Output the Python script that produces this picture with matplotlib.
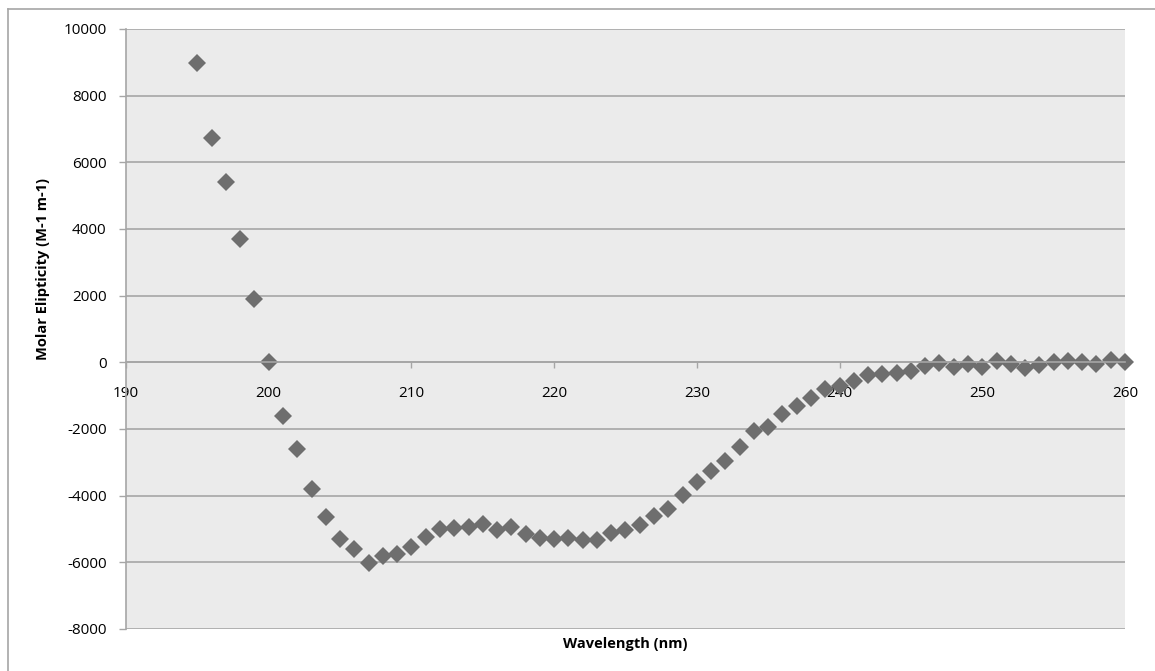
import matplotlib
matplotlib.use("Agg")
import matplotlib.pyplot as plt
from matplotlib.lines import Line2D

# CD spectrum
wavelength = list(range(195, 261))
ellipticity = [
    8970, 6720, 5400, 3700, 1890, 0,
    -1600, -2610, -3810, -4630, -5300, -5610, -6030, -5810, -5750, -5530,
    -5250, -5010, -4960, -4950, -4860, -5030, -4930, -5150, -5280, -5300,
    -5260, -5330, -5330, -5110, -5040, -4880, -4600, -4400, -3980, -3580,
    -3270, -2970, -2530, -2060, -1930, -1560, -1310, -1080, -810, -710,
    -550, -380, -350, -310, -260, -110, -30, -130, -60, -130,
    50, -50, -160, -80, 0, 50, 0, -60, 70, 0,
]
x_ticks = [190, 200, 210, 220, 230, 240, 250, 260]
y_ticks = [-8000, -6000, -4000, -2000, 0, 2000, 4000, 6000, 8000, 10000]

W, H = 1155, 671
plt.rcParams['font.family'] = ['Open Sans', 'DejaVu Sans']
plt.rcParams['axes.unicode_minus'] = False
fig = plt.figure(figsize=(W / 100, H / 100), dpi=100)

# plot area in pixels
left, right, top, bottom = 126, 1125, 29, 629
ax = fig.add_axes([left / W, (H - bottom) / H, (right - left) / W, (bottom - top) / H])
ax.set_facecolor("#EBEBEB")

grid_col = "#A6A6A6"
ax.set_xlim(190, 260)
ax.set_ylim(-8000, 10000)
ax.set_xticks(x_ticks)
ax.set_yticks(y_ticks)
ax.yaxis.grid(True, color=grid_col, linewidth=1.2)
ax.set_axisbelow(True)

for s in ["top", "right"]:
    ax.spines[s].set_visible(False)
ax.spines["left"].set_color(grid_col)
ax.spines["left"].set_linewidth(1.2)
ax.spines["bottom"].set_position(("data", 0))
ax.spines["bottom"].set_color(grid_col)
ax.spines["bottom"].set_linewidth(1.2)

ax.tick_params(axis="x", direction="out", length=4, width=1, color=grid_col,
               pad=13, labelsize=11, labelcolor="black")
ax.tick_params(axis="y", direction="out", length=5, width=1, color=grid_col,
               pad=9, labelsize=11, labelcolor="black")

ax.plot(wavelength, ellipticity, linestyle="none", marker="D", markersize=9,
        color="#6E6E6E", markeredgewidth=0, clip_on=False)

fig.text(625 / W, 1 - 644 / H, "Wavelength (nm)", ha="center", va="center",
         fontsize=10.5, fontweight="bold")
fig.text(43 / W, 1 - 269 / H, "Molar Elipticity (M-1 m-1)", ha="center", va="center",
         rotation=90, fontsize=10.5, fontweight="bold")

# chart area border (top and left edges visible)
fig.add_artist(Line2D([8 / W, 1], [1 - 9 / H, 1 - 9 / H], color="#A6A6A6", linewidth=1.2))
fig.add_artist(Line2D([8 / W, 8 / W], [0, 1 - 9 / H], color="#A6A6A6", linewidth=1.2))

fig.savefig("out.png", dpi=100)
